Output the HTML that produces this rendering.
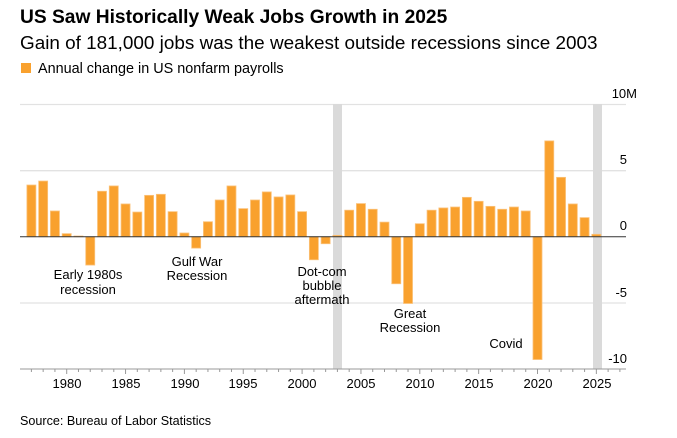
<!DOCTYPE html>
<html><head><meta charset="utf-8"><style>
body{margin:0;background:#fff;width:677px;height:433px;overflow:hidden;font-family:"Liberation Sans",sans-serif;}
</style></head><body>
<svg width="677" height="433" xmlns="http://www.w3.org/2000/svg" font-family="Liberation Sans, sans-serif">
<text x="20" y="23" font-size="19.2" font-weight="bold" fill="#000">US Saw Historically Weak Jobs Growth in 2025</text>
<text x="20" y="49" font-size="18.9" fill="#000">Gain of 181,000 jobs was the weakest outside recessions since 2003</text>
<rect x="21" y="63" width="10" height="10" fill="#f9a12e"/>
<text x="38" y="73" font-size="14.4" fill="#000">Annual change in US nonfarm payrolls</text>
<g stroke="#e2e2e2" stroke-width="1.3">
<line x1="20" x2="626" y1="104.5" y2="104.5"/>
<line x1="20" x2="626" y1="170.7" y2="170.7"/>
<line x1="20" x2="626" y1="303" y2="303"/>
</g>
<rect x="333" y="104" width="9" height="265" fill="#dadada"/>
<rect x="593" y="104" width="9" height="265" fill="#dadada"/>
<g id="bars" fill="#f9a12e" stroke="#fbc27a" stroke-width="0.8"></g>
<line x1="20" x2="626" y1="236.7" y2="236.7" stroke="#333" stroke-width="1"/>
<line x1="20" x2="626" y1="369" y2="369" stroke="#999" stroke-width="1"/>
<g id="ticks" stroke="#999" stroke-width="1"></g>
<g font-size="13" fill="#000" text-anchor="middle">
<text x="67" y="388">1980</text><text x="126" y="388">1985</text><text x="185" y="388">1990</text><text x="243" y="388">1995</text><text x="302" y="388">2000</text><text x="361" y="388">2005</text><text x="420" y="388">2010</text><text x="479" y="388">2015</text><text x="538" y="388">2020</text><text x="597" y="388">2025</text>
</g>
<g font-size="13" fill="#000" text-anchor="end">
<text x="637" y="98">10M</text><text x="627" y="164">5</text><text x="627" y="230">0</text><text x="627" y="297">-5</text><text x="627" y="363">-10</text>
</g>
<g font-size="13" fill="#000" text-anchor="middle">
<text x="88" y="279">Early 1980s</text><text x="88" y="294">recession</text>
<text x="197" y="266">Gulf War</text><text x="197" y="280">Recession</text>
<text x="322" y="276">Dot-com</text><text x="322" y="290">bubble</text><text x="322" y="304">aftermath</text>
<text x="410" y="318">Great</text><text x="410" y="332">Recession</text>
<text x="506" y="348">Covid</text>
</g>
<text x="20" y="425" font-size="12.6" fill="#000">Source: Bureau of Labor Statistics</text>
</svg>
<script>
var v=[3.9,4.2,1.94,0.23,0.05,-2.14,3.43,3.83,2.47,1.86,3.12,3.2,1.89,0.28,-0.86,1.13,2.77,3.83,2.12,2.77,3.38,3.0,3.15,1.89,-1.74,-0.53,0.1,2.0,2.5,2.07,1.1,-3.55,-5.04,0.98,2.0,2.17,2.24,2.97,2.67,2.29,2.07,2.24,1.94,-9.27,7.23,4.48,2.47,1.44,0.18];
var ns="http://www.w3.org/2000/svg",b=document.getElementById("bars"),t=document.getElementById("ticks");
for(var i=0;i<v.length;i++){var yr=1977+i,cx=66.7+(yr-1980)*11.77,h=v[i]*13.25;
var r=document.createElementNS(ns,"rect");r.setAttribute("x",cx-4.5);r.setAttribute("width",9);
r.setAttribute("y",h>0?236.7-h:236.7);r.setAttribute("height",Math.abs(h));b.appendChild(r);}
for(var yr=1977;yr<=2027;yr++){var cx=66.7+(yr-1980)*11.77;if(cx>625)break;var l=document.createElementNS(ns,"line");
l.setAttribute("x1",cx);l.setAttribute("x2",cx);l.setAttribute("y1",369);l.setAttribute("y2",yr%5==0?374:372);t.appendChild(l);}
</script>
</body></html>
